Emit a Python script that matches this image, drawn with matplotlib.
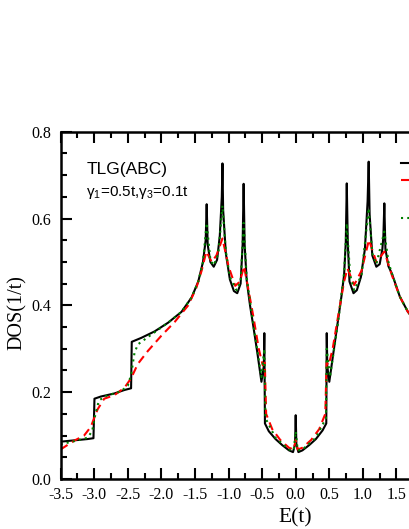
import numpy as np
import matplotlib
matplotlib.use("Agg")
import matplotlib.pyplot as plt
from matplotlib.ticker import MultipleLocator

# black solid curve
e_black = [-3.50, -3.30, -3.10, -3.01, -2.995, -2.90, -2.70, -2.55, -2.45, -2.44,
           -2.30, -2.10, -1.90, -1.70, -1.55, -1.45, -1.38, -1.34, -1.325, -1.31,
           -1.27, -1.22, -1.17, -1.13, -1.10, -1.09, -1.08, -1.04, -0.98, -0.92,
           -0.87, -0.82, -0.79, -0.775, -0.76, -0.73, -0.68, -0.63, -0.57, -0.51,
           -0.475, -0.467, -0.458, -0.40, -0.30, -0.20, -0.10, -0.04, -0.01, 0.00,
           0.01, 0.04, 0.10, 0.20, 0.30, 0.40, 0.455, 0.462, 0.47, 0.50,
           0.56, 0.62, 0.68, 0.72, 0.745, 0.76, 0.775, 0.80, 0.86, 0.91,
           0.97, 1.03, 1.07, 1.086, 1.10, 1.14, 1.20, 1.25, 1.29, 1.305,
           1.319, 1.335, 1.38, 1.43, 1.55, 1.67, 1.75]
dos_black = [0.086, 0.089, 0.092, 0.094, 0.185, 0.190, 0.197, 0.205, 0.209, 0.316,
             0.325, 0.340, 0.360, 0.385, 0.418, 0.455, 0.500, 0.550, 0.633, 0.540,
             0.500, 0.489, 0.505, 0.560, 0.650, 0.727, 0.620, 0.520, 0.460, 0.433,
             0.428, 0.450, 0.540, 0.680, 0.540, 0.458, 0.400, 0.351, 0.290, 0.224,
             0.260, 0.336, 0.128, 0.110, 0.092, 0.078, 0.066, 0.062, 0.080, 0.147,
             0.080, 0.062, 0.066, 0.078, 0.092, 0.112, 0.128, 0.336, 0.260, 0.224,
             0.290, 0.355, 0.420, 0.470, 0.545, 0.681, 0.545, 0.455, 0.428, 0.435,
             0.465, 0.530, 0.640, 0.731, 0.610, 0.515, 0.489, 0.495, 0.530, 0.560,
             0.635, 0.530, 0.490, 0.474, 0.420, 0.385, 0.370]

# red dashed curve
e_red = [-3.50, -3.30, -3.15, -3.05, -2.95, -2.85, -2.70, -2.55, -2.45, -2.35,
         -2.20, -2.00, -1.80, -1.60, -1.48, -1.40, -1.33, -1.25, -1.18, -1.09,
         -1.00, -0.90, -0.83, -0.77, -0.72, -0.63, -0.55, -0.49, -0.46, -0.44,
         -0.35, -0.23, -0.10, -0.03, 0.00, 0.03, 0.10, 0.23, 0.35, 0.44,
         0.46, 0.49, 0.55, 0.63, 0.72, 0.77, 0.87, 0.98, 1.09, 1.20,
         1.32, 1.43, 1.55, 1.67, 1.75]
dos_red = [0.068, 0.088, 0.100, 0.120, 0.160, 0.185, 0.193, 0.210, 0.232, 0.265,
           0.295, 0.330, 0.362, 0.400, 0.440, 0.480, 0.524, 0.500, 0.515, 0.554,
           0.490, 0.445, 0.455, 0.490, 0.450, 0.374, 0.300, 0.262, 0.268, 0.150,
           0.115, 0.090, 0.072, 0.068, 0.090, 0.068, 0.072, 0.090, 0.115, 0.150,
           0.268, 0.262, 0.300, 0.374, 0.455, 0.485, 0.447, 0.480, 0.551, 0.500,
           0.524, 0.470, 0.420, 0.385, 0.370]

# green dotted curve
e_green = [-3.50, -3.30, -3.10, -3.03, -2.98, -2.93, -2.85, -2.60, -2.50, -2.45,
           -2.40, -2.35, -2.10, -1.90, -1.70, -1.55, -1.45, -1.38, -1.325, -1.27,
           -1.22, -1.15, -1.09, -1.04, -0.98, -0.88, -0.82, -0.775, -0.73, -0.63,
           -0.51, -0.467, -0.45, -0.30, -0.10, -0.03, 0.00, 0.03, 0.10, 0.30,
           0.45, 0.462, 0.51, 0.63, 0.72, 0.76, 0.81, 0.87, 0.98, 1.086,
           1.14, 1.20, 1.319, 1.38, 1.43, 1.55, 1.67, 1.75]
dos_green = [0.080, 0.087, 0.095, 0.110, 0.150, 0.180, 0.190, 0.202, 0.215, 0.240,
             0.290, 0.310, 0.338, 0.360, 0.385, 0.418, 0.455, 0.500, 0.590, 0.505,
             0.492, 0.520, 0.630, 0.525, 0.465, 0.435, 0.455, 0.590, 0.465, 0.355,
             0.235, 0.300, 0.140, 0.095, 0.068, 0.066, 0.110, 0.066, 0.068, 0.095,
             0.140, 0.300, 0.235, 0.360, 0.475, 0.589, 0.470, 0.435, 0.470, 0.624,
             0.520, 0.495, 0.570, 0.500, 0.474, 0.420, 0.385, 0.370]

fig = plt.figure(figsize=(4.09, 5.29), dpi=100)
# the axes runs past the right edge of the figure, as in the original crop
ax = fig.add_axes([0.148, 0.0945, 1.15, 0.6565])

l_black, = ax.plot(e_black, dos_black, color="black", lw=1.5, label="clean")
l_red, = ax.plot(e_red, dos_red, color="red", lw=1.5, ls=(0, (4, 2.5)), label="disorder")
l_green, = ax.plot(e_green, dos_green, color="green", lw=1.5, ls=(0, (1, 2)), label="impurity")

ax.set_xlim(-3.5, 3.5)
ax.set_ylim(0.0, 0.8)
ax.xaxis.set_major_locator(MultipleLocator(0.5))
ax.xaxis.set_minor_locator(MultipleLocator(0.25))
ax.yaxis.set_major_locator(MultipleLocator(0.2))
ax.yaxis.set_minor_locator(MultipleLocator(0.05))
ax.xaxis.set_major_formatter(plt.FuncFormatter(lambda v, p: f"{v:.1f}"))
ax.yaxis.set_major_formatter(plt.FuncFormatter(lambda v, p: f"{v:.1f}"))

ax.tick_params(which="both", direction="in", top=True, right=True, width=1.5)
ax.tick_params(which="major", length=8, labelsize=11.5)
ax.tick_params(axis="x", which="major", pad=6)
ax.tick_params(axis="y", which="major", pad=7)
ax.tick_params(which="minor", length=4)
for lab in ax.get_xticklabels() + ax.get_yticklabels():
    lab.set_family("Liberation Serif")
for sp in ax.spines.values():
    sp.set_linewidth(1.8)

ax.set_xlabel("E(t)", family="Liberation Serif", fontsize=15.5)
ax.set_ylabel("DOS(1/t)", family="Liberation Serif", fontsize=14.5)
ax.xaxis.set_label_coords(0.5, -0.083)
ax.yaxis.set_label_coords(-0.071, 0.48)

ax.text(0.055, 0.877, "TLG(ABC)", transform=ax.transAxes, family="Liberation Sans", fontsize=12.5)
ax.text(0.055, 0.815, r"$\mathregular{\gamma_{1}}$=0.5t,$\mathregular{\gamma_{3}}$=0.1t",
        transform=ax.transAxes, family="Liberation Sans", fontsize=11)

leg1 = ax.legend(handles=[l_black, l_red], loc="upper left", bbox_to_anchor=(0.697, 0.965),
                 frameon=False, handlelength=2.2, fontsize=10, labelspacing=0.25)
ax.add_artist(leg1)
ax.legend(handles=[l_green], loc="upper left", bbox_to_anchor=(0.697, 0.806),
          frameon=False, handlelength=2.2, fontsize=10)

fig.savefig("out.png", dpi=100)
